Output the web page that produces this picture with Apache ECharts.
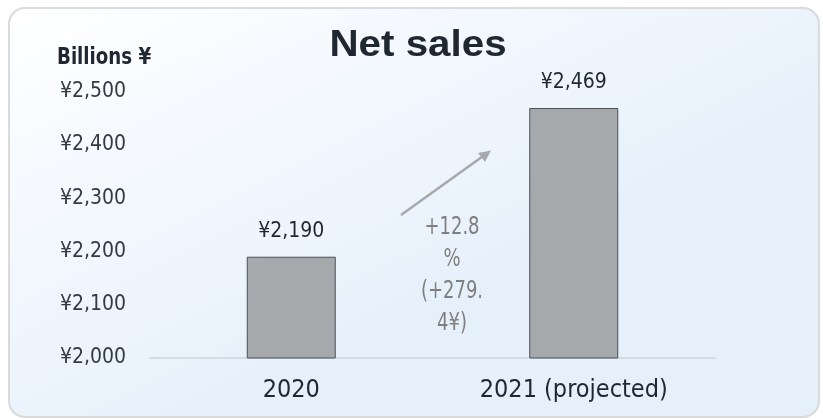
<!DOCTYPE html>
<html>
<head>
<meta charset="utf-8">
<script src="https://cdn.jsdelivr.net/npm/echarts@6/dist/echarts.min.js"></script>
<style>
  html, body { margin: 0; padding: 0; background: #fff; }
  #main { width: 823px; height: 420px; }
</style>
</head>
<body>
<div id="main"></div>
<script>
// chart data
var categories = ["2020", "2021 (projected)"];
var netSales = [2190, 2469];
var axisMin = 2000, axisMax = 2500, axisStep = 100;
var unitLabel = "Billions ¥";
var changeText = "+12.8\n%\n(+279.\n4¥)";

var narrow = "'DejaVu Sans Condensed', 'Roboto', sans-serif";

function yen(v) {
    return "¥" + Number(v).toLocaleString("en-US");
}

var chart = echarts.init(document.getElementById("main"), null, { renderer: "canvas" });

chart.setOption({
    animation: false,
    backgroundColor: "#ffffff",
    grid: {
        left: 150,
        right: 108,
        top: 91.5,
        bottom: 62,
        containLabel: false
    },
    graphic: [{
        type: "rect",
        z: -10,
        silent: true,
        shape: { x: 9, y: 8, width: 810, height: 409, r: 16 },
        style: {
            fill: new echarts.graphic.LinearGradient(0, 0, 0.25, 1, [
                { offset: 0, color: "#ffffff" },
                { offset: 1, color: "#e6f0fb" }
            ]),
            stroke: "#dadada",
            lineWidth: 2
        }
    }, {
        // title
        type: "text",
        x: 418,
        y: 46,
        scaleX: 1.09,
        style: {
            text: "Net sales",
            fontFamily: "'Liberation Sans', Arial, sans-serif",
            fontWeight: "bold",
            fontSize: 37,
            align: "center",
            verticalAlign: "middle",
            fill: "#1f2730"
        }
    }, {
        type: "text",
        x: 57,
        y: 58,
        scaleX: 0.88,
        style: {
            text: unitLabel,
            fontFamily: narrow,
            fontSize: 23,
            fontWeight: "bold",
            verticalAlign: "middle",
            fill: "#1f2730"
        }
    }, {
        type: "line",
        silent: true,
        shape: { x1: 401, y1: 215, x2: 486, y2: 154 },
        style: { stroke: "#a6a9ac", lineWidth: 2.5 }
    }, {
        type: "polygon",
        silent: true,
        shape: { points: [[491, 150.5], [478, 153], [485, 162]] },
        style: { fill: "#a6a9ac" }
    }, {
        type: "text",
        x: 452,
        y: 211,
        scaleX: 0.8,
        style: {
            text: changeText,
            fontFamily: narrow,
            fontSize: 25,
            lineHeight: 32,
            align: "center",
            fill: "#7f7f7f"
        }
    }],
    xAxis: {
        type: "category",
        data: categories,
        axisLine: { lineStyle: { color: "#d5dbe2", width: 2 } },
        axisTick: { show: false },
        axisLabel: {
            interval: 0,
            margin: 20,
            fontFamily: narrow,
            fontSize: 25,
            color: "#1f2730"
        }
    },
    yAxis: {
        type: "value",
        min: axisMin,
        max: axisMax,
        interval: axisStep,
        splitLine: { show: false },
        axisLine: { show: false },
        axisTick: { show: false },
        axisLabel: {
            margin: 24,
            fontFamily: narrow,
            fontSize: 21,
            color: "#333a42",
            formatter: yen
        }
    },
    series: [{
        type: "bar",
        data: netSales,
        barWidth: 89,
        itemStyle: {
            color: "#a6a9ac",
            borderColor: "#4b5057",
            borderWidth: 1
        },
        label: {
            show: true,
            position: "top",
            distance: 15,
            fontFamily: narrow,
            fontSize: 21,
            color: "#1f2730",
            formatter: function (p) { return yen(p.value); }
        }
    }]
});
</script>
</body>
</html>
